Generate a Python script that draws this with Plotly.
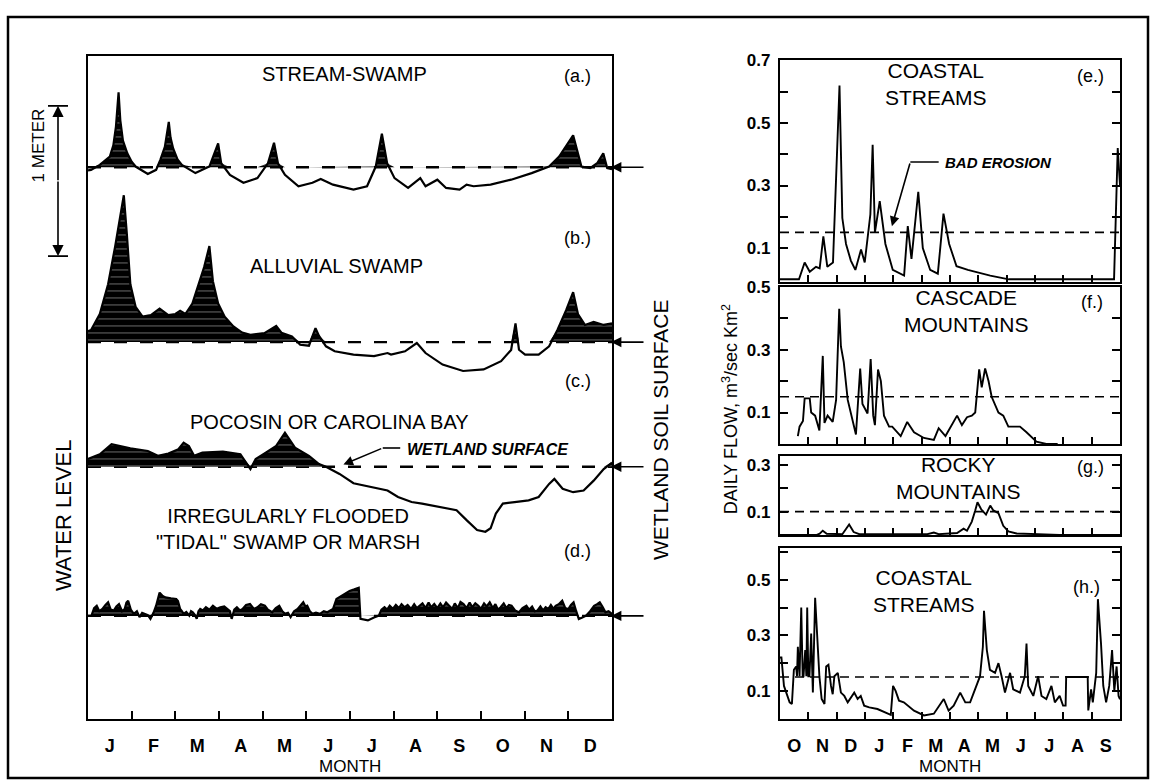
import numpy as np
import plotly.graph_objects as go

W, H = 1151, 782

# ---------------- data ----------------
LEFT_MONTHS = ["J", "F", "M", "A", "M", "J", "J", "A", "S", "O", "N", "D"]
RIGHT_MONTHS = ["O", "N", "D", "J", "F", "M", "A", "M", "J", "J", "A", "S"]

# (a) stream-swamp : month (0=Jan 1), water level relative to soil surface (m)
a_t = [0.0, 0.07, 0.27, 0.50, 0.58, 0.64, 0.70, 0.74, 0.80, 0.90, 1.00, 1.09, 1.37, 1.56, 1.66,
       1.76, 1.85, 1.89, 1.95, 2.05, 2.15, 2.46, 2.78, 2.90, 2.98, 3.05, 3.25, 3.56, 3.88, 4.12,
       4.26, 4.35, 4.51, 4.82, 5.14, 5.33, 5.61, 6.08, 6.39, 6.59, 6.73, 6.85, 7.02, 7.33, 7.61,
       7.73, 8.00, 8.20, 8.51, 8.67, 8.83, 9.22, 9.69, 10.16, 10.56, 10.79, 11.11, 11.30, 11.50,
       11.66, 11.80, 11.89, 12.0]
a_v = [-0.02, -0.017, 0.015, 0.068, 0.14, 0.26, 0.48, 0.30, 0.17, 0.089, 0.035, 0.004, -0.044,
       -0.017, 0.05, 0.13, 0.29, 0.19, 0.12, 0.05, 0.015, -0.038, 0.004, 0.089, 0.152, 0.025,
       -0.049, -0.1, -0.07, 0.025, 0.156, 0.025, -0.049, -0.122, -0.1, -0.076, -0.112, -0.144,
       -0.122, 0.004, 0.215, 0.025, -0.07, -0.133, -0.07, -0.122, -0.08, -0.133, -0.144, -0.112,
       -0.122, -0.112, -0.08, -0.038, 0.004, 0.068, 0.204, 0.004, -0.006, 0.025, 0.089, -0.006,
       -0.013]

# (b) alluvial swamp
b_t = [0.0, 0.07, 0.27, 0.46, 0.62, 0.74, 0.82, 0.89, 0.97, 1.09, 1.25, 1.44, 1.64, 1.84, 2.0,
       2.11, 2.23, 2.39, 2.54, 2.66, 2.78, 2.86, 2.98, 3.13, 3.33, 3.53, 3.72, 4.04, 4.31, 4.43,
       4.67, 4.86, 5.06, 5.21, 5.29, 5.45, 5.65, 6.08, 6.55, 6.86, 6.94, 7.26, 7.53, 7.73, 8.12,
       8.59, 9.06, 9.46, 9.69, 9.79, 9.87, 10.01, 10.32, 10.56, 10.75, 10.95, 11.11, 11.22,
       11.38, 11.58, 11.81, 12.0]
b_v = [0.07, 0.078, 0.18, 0.37, 0.61, 0.82, 0.94, 0.69, 0.37, 0.226, 0.163, 0.173, 0.215, 0.173,
       0.18, 0.2, 0.18, 0.247, 0.37, 0.48, 0.615, 0.39, 0.247, 0.163, 0.1, 0.061, 0.046, 0.057,
       0.103, 0.06, 0.036, -0.017, -0.023, 0.089, 0.04, -0.027, -0.059, -0.08, -0.09, -0.07,
       -0.08, -0.059, -0.006, -0.07, -0.144, -0.185, -0.175, -0.122, -0.05, 0.12, -0.049, -0.08,
       -0.08, -0.027, 0.078, 0.204, 0.32, 0.18, 0.11, 0.13, 0.11, 0.12]

# (c) pocosin or carolina bay
c_t = [0.0, 0.07, 0.27, 0.54, 0.97, 1.37, 1.60, 1.84, 2.07, 2.19, 2.31, 2.43, 2.62, 3.09, 3.49,
       3.72, 3.84, 4.08, 4.31, 4.51, 4.74, 5.06, 5.29, 5.45, 5.76, 6.08, 6.31, 6.55, 6.86, 7.10,
       7.41, 7.65, 8.04, 8.44, 8.67, 8.91, 9.10, 9.22, 9.34, 9.50, 9.77, 10.09, 10.32, 10.56,
       10.68, 10.87, 11.11, 11.35, 11.58, 11.81, 12.0]
c_v = [0.05, 0.059, 0.08, 0.144, 0.118, 0.101, 0.07, 0.084, 0.112, 0.154, 0.133, 0.07, 0.091,
       0.097, 0.08, -0.015, 0.049, 0.091, 0.133, 0.217, 0.122, 0.07, 0.017, 0.0, -0.046, -0.106,
       -0.12, -0.131, -0.152, -0.194, -0.226, -0.236, -0.257, -0.278, -0.342, -0.405, -0.416,
       -0.394, -0.3, -0.236, -0.226, -0.215, -0.194, -0.11, -0.078, -0.141, -0.163, -0.152,
       -0.089, -0.015, 0.027]

# (d) irregularly flooded "tidal" swamp or marsh
d_t = [0.00, 0.08, 0.14, 0.20, 0.26, 0.33, 0.40, 0.46, 0.52, 0.59, 0.65, 0.71, 0.78, 0.84, 0.88,
       0.92, 0.98, 1.05, 1.12, 1.18, 1.24, 1.30, 1.37, 1.43, 1.50, 1.56, 1.64, 1.70, 1.77, 1.90,
       2.02, 2.06, 2.11, 2.15, 2.19, 2.25, 2.32, 2.36, 2.40, 2.45, 2.49, 2.53, 2.57, 2.63, 2.70,
       2.78, 2.86, 2.95, 3.03, 3.12, 3.20, 3.25, 3.29, 3.35, 3.41, 3.48, 3.54, 3.62, 3.71, 3.80,
       3.88, 3.96, 4.05, 4.12, 4.22, 4.30, 4.38, 4.45, 4.51, 4.58, 4.64, 4.72, 4.80, 4.87, 4.93,
       4.98, 5.02, 5.08, 5.14, 5.22, 5.31, 5.40, 5.48, 5.55, 5.61, 5.69, 5.82, 5.90, 5.99, 6.10,
       6.20, 6.24, 6.41, 6.55, 6.66, 6.72, 6.79, 6.85, 6.91, 6.98, 7.05, 7.12, 7.18, 7.25, 7.32,
       7.40, 7.47, 7.53, 7.59, 7.66, 7.73, 7.80, 7.86, 7.93, 8.00, 8.07, 8.13, 8.20, 8.27, 8.34,
       8.40, 8.47, 8.53, 8.60, 8.67, 8.74, 8.80, 8.87, 8.94, 9.00, 9.07, 9.13, 9.20, 9.27, 9.33,
       9.39, 9.45, 9.52, 9.58, 9.64, 9.70, 9.78, 9.87, 9.95, 10.04, 10.10, 10.17, 10.23, 10.29,
       10.36, 10.42, 10.48, 10.54, 10.60, 10.66, 10.71, 10.78, 10.86, 10.93, 11.00, 11.06, 11.12,
       11.18, 11.24, 11.32, 11.41, 11.50, 11.59, 11.66, 11.72, 11.78, 11.85, 11.92, 12.00]
d_v = [0.00, 0.002, 0.05, 0.065, 0.03, 0.044, 0.07, 0.087, 0.04, 0.034, 0.06, 0.076, 0.03, 0.044,
       0.085, 0.097, 0.04, 0.013, 0.03, -0.008, 0.02, 0.013, 0.005, -0.019, 0.02, 0.065, 0.149,
       0.13, 0.118, 0.112, 0.108, 0.095, 0.044, 0.03, 0.013, 0.025, 0.002, 0.03, 0.023, 0.005,
       -0.019, 0.03, 0.044, 0.035, 0.055, 0.04, 0.065, 0.045, 0.055, 0.06, 0.044, 0.03, -0.019,
       0.04, 0.055, 0.035, 0.044, 0.07, 0.076, 0.045, 0.055, 0.075, 0.065, 0.04, 0.023, 0.05,
       0.065, 0.03, 0.013, 0.02, -0.008, 0.03, 0.044, 0.07, 0.087, 0.06, 0.065, 0.03, 0.013, 0.02,
       0.013, 0.03, 0.023, 0.035, 0.044, 0.108, 0.129, 0.14, 0.16, 0.17, 0.18, -0.019, -0.029,
       -0.01, 0.002, 0.04, 0.055, 0.04, 0.065, 0.045, 0.07, 0.05, 0.075, 0.055, 0.07, 0.045,
       0.075, 0.05, 0.065, 0.08, 0.05, 0.085, 0.055, 0.076, 0.05, 0.08, 0.055, 0.085, 0.065,
       0.045, 0.08, 0.05, 0.09, 0.076, 0.05, 0.085, 0.055, 0.08, 0.065, 0.045, 0.08, 0.06, 0.087,
       0.05, 0.075, 0.04, 0.055, 0.08, 0.05, 0.07, 0.065, 0.035, 0.023, 0.05, 0.065, 0.04, 0.06,
       0.03, 0.034, 0.06, 0.035, 0.055, 0.044, 0.07, 0.045, 0.065, 0.075, 0.097, 0.05, 0.044,
       0.07, 0.087, 0.03, -0.02, -0.01, 0.002, 0.03, 0.065, 0.075, 0.087, 0.06, 0.023, 0.03,
       0.013]

# vertical placement of each hydrograph on the shared left axis (m below panel top)
OFFSETS = {"a": -0.709, "b": -1.829, "c": -2.627, "d": -3.582}
LEFT_RANGE = [-4.2405, 0.0]

# right panels: month of water year (0 = Oct 1), daily flow m3/sec/km2
e_t = [0.0, 0.67, 0.87, 1.05, 1.27, 1.40, 1.53, 1.67, 1.87, 2.00, 2.10, 2.20, 2.33, 2.50, 2.66,
       2.86, 2.99, 3.19, 3.27, 3.35, 3.52, 3.72, 3.98, 4.38, 4.51, 4.64, 4.88, 5.04, 5.30, 5.57,
       5.77, 5.97, 6.23, 6.63, 7.42, 8.08, 11.79, 11.92, 12.0]
e_v = [0.0, 0.0, 0.054, 0.024, 0.04, 0.035, 0.137, 0.04, 0.054, 0.363, 0.62, 0.196, 0.113, 0.06,
       0.03, 0.095, 0.054, 0.208, 0.43, 0.15, 0.25, 0.113, 0.03, 0.012, 0.17, 0.065, 0.28, 0.10,
       0.03, 0.018, 0.21, 0.113, 0.042, 0.03, 0.012, 0.0, 0.0, 0.42, 0.30]

f_t = [0.63, 0.69, 0.81, 0.87, 1.05, 1.10, 1.24, 1.39, 1.51, 1.57, 1.68, 1.86, 1.98, 2.09, 2.15,
       2.25, 2.39, 2.68, 2.83, 2.91, 3.09, 3.20, 3.29, 3.35, 3.46, 3.56, 3.67, 3.85, 3.96, 4.26,
       4.49, 4.73, 5.08, 5.43, 5.60, 5.84, 6.25, 6.42, 6.60, 6.77, 6.89, 7.03, 7.12, 7.24, 7.36,
       7.47, 7.71, 7.88, 8.06, 8.47, 8.70, 9.05, 9.40, 9.80]
f_v = [0.025, 0.055, 0.073, 0.145, 0.145, 0.10, 0.09, 0.043, 0.28, 0.067, 0.09, 0.07, 0.14, 0.43,
       0.31, 0.26, 0.14, 0.03, 0.24, 0.127, 0.097, 0.27, 0.09, 0.06, 0.237, 0.20, 0.09, 0.055,
       0.055, 0.025, 0.07, 0.037, 0.019, 0.013, 0.05, 0.025, 0.09, 0.06, 0.085, 0.09, 0.10, 0.237,
       0.18, 0.24, 0.20, 0.15, 0.10, 0.09, 0.055, 0.055, 0.037, 0.007, 0.0, 0.0]

g_t = [0.0, 1.30, 1.40, 1.51, 1.65, 2.20, 2.44, 2.60, 2.80, 5.20, 5.43, 5.60, 6.25, 6.48, 6.60,
       6.77, 6.89, 6.97, 7.10, 7.27, 7.42, 7.53, 7.71, 7.88, 8.06, 8.35, 9.86, 12.0]
g_v = [0.0, 0.0, 0.005, 0.018, 0.005, 0.003, 0.045, 0.012, 0.003, 0.003, 0.01, 0.003, 0.008,
       0.027, 0.018, 0.057, 0.105, 0.14, 0.11, 0.087, 0.126, 0.105, 0.093, 0.039, 0.015, 0.006,
       0.0, 0.0]

h_t = [0.0, 0.05, 0.14, 0.22, 0.34, 0.42, 0.49, 0.57, 0.60, 0.63, 0.69, 0.75, 0.80, 0.83, 0.89,
       0.93, 0.96, 1.00, 1.04, 1.10, 1.16, 1.24, 1.31, 1.39, 1.47, 1.57, 1.63, 1.71, 1.80, 1.86,
       1.92, 2.04, 2.15, 2.27, 2.39, 2.56, 2.62, 2.74, 2.85, 2.97, 3.15, 3.44, 3.67, 3.91, 3.99,
       4.08, 4.20, 4.37, 4.73, 5.08, 5.43, 5.66, 5.78, 5.95, 6.13, 6.36, 6.54, 6.71, 6.89, 7.06,
       7.16, 7.20, 7.30, 7.41, 7.59, 7.71, 7.82, 7.94, 8.12, 8.23, 8.47, 8.64, 8.70, 8.76, 8.94,
       9.11, 9.23, 9.40, 9.58, 9.70, 9.87, 9.99, 10.08, 10.10, 10.86, 10.88, 10.98, 11.04, 11.16,
       11.22, 11.33, 11.41, 11.51, 11.62, 11.72, 11.80, 11.88, 11.95, 12.0]
h_v = [0.22, 0.22, 0.118, 0.094, 0.059, 0.053, 0.176, 0.188, 0.153, 0.259, 0.153, 0.40, 0.153,
       0.153, 0.247, 0.153, 0.40, 0.153, 0.153, 0.306, 0.094, 0.435, 0.282, 0.153, 0.071, 0.053,
       0.188, 0.194, 0.118, 0.088, 0.153, 0.165, 0.094, 0.082, 0.059, 0.082, 0.094, 0.071, 0.082,
       0.047, 0.041, 0.035, 0.024, 0.014, 0.118, 0.10, 0.065, 0.059, 0.029, 0.012, 0.018, 0.053,
       0.071, 0.029, 0.047, 0.094, 0.059, 0.059, 0.106, 0.153, 0.259, 0.388, 0.247, 0.176, 0.165,
       0.20, 0.153, 0.094, 0.165, 0.106, 0.094, 0.153, 0.27, 0.118, 0.082, 0.153, 0.082, 0.071,
       0.118, 0.059, 0.082, 0.047, 0.047, 0.15, 0.15, 0.03, 0.106, 0.059, 0.165, 0.43, 0.27,
       0.118, 0.059, 0.118, 0.247, 0.10, 0.188, 0.082, 0.07]

THRESHOLDS = {"e": 0.15, "f": 0.15, "g": 0.10, "h": 0.15}
Y_RANGES = {"e": [-0.008, 0.70], "f": [0.0, 0.50], "g": [0.0, 0.34], "h": [0.0, 0.615]}
Y_TICKS = {"e": [0.1, 0.2, 0.3, 0.4, 0.5, 0.6, 0.7], "f": [0.1, 0.2, 0.3, 0.4, 0.5],
           "g": [0.1, 0.2, 0.3], "h": [0.1, 0.2, 0.3, 0.4, 0.5, 0.6]}

# ---------------- layout ----------------
FONT = "Liberation Sans"
LX0, LX1, LY0, LY1 = 88, 612, 48, 718
RX0, RX1 = 780, 1120
PANELS = {"e": (52, 276), "f": (281, 440), "g": (452, 532), "h": (545, 718)}


def px(x, y):
    return x / W, 1 - y / H


def ydom(top, bot):
    return [1 - bot / H, 1 - top / H]


fig = go.Figure()
PATTERN = dict(shape="-", bgcolor="black", fgcolor="white", size=7, solidity=0.12)


def add_hydro(t, v, off):
    t = np.asarray(t, float)
    v = np.asarray(v, float)
    base = np.full_like(v, off)
    fig.add_trace(go.Scatter(x=t, y=base, mode="lines", line=dict(width=0),
                             showlegend=False, hoverinfo="skip", xaxis="x", yaxis="y"))
    fig.add_trace(go.Scatter(x=t, y=np.maximum(v, 0) + off, mode="lines", line=dict(width=0),
                             fill="tonexty", fillpattern=PATTERN, showlegend=False,
                             hoverinfo="skip", xaxis="x", yaxis="y"))
    fig.add_trace(go.Scatter(x=t, y=v + off, mode="lines", line=dict(color="black", width=2.2),
                             showlegend=False, hoverinfo="skip", xaxis="x", yaxis="y"))


shapes = []
for key, (t, v) in {"a": (a_t, a_v), "b": (b_t, b_v), "c": (c_t, c_v), "d": (d_t, d_v)}.items():
    off = OFFSETS[key]
    shapes.append(dict(type="line", xref="x", yref="y", x0=0, x1=12, y0=off, y1=off,
                       line=dict(color="black", width=2.4, dash="13px,13px"), layer="below"))
    add_hydro(t, v, off)

right = {"e": (e_t, e_v, 2), "f": (f_t, f_v, 3), "g": (g_t, g_v, 4), "h": (h_t, h_v, 5)}
for key, (t, v, n) in right.items():
    fig.add_trace(go.Scatter(x=t, y=v, mode="lines", line=dict(color="black", width=1.9),
                             showlegend=False, hoverinfo="skip", xaxis=f"x{n}", yaxis=f"y{n}"))
    shapes.append(dict(type="line", xref=f"x{n}", yref=f"y{n}", x0=0, x1=12,
                       y0=THRESHOLDS[key], y1=THRESHOLDS[key],
                       line=dict(color="black", width=1.6, dash="9px,6px"), layer="below"))

axis_common = dict(showline=True, mirror=True, linecolor="black", linewidth=2.4,
                   showgrid=False, zeroline=False)
layout = dict(
    width=W, height=H, autosize=False, margin=dict(l=0, r=0, t=0, b=0),
    paper_bgcolor="white", plot_bgcolor="white", showlegend=False,
    font=dict(family=FONT, color="black"),
    xaxis=dict(domain=[LX0 / W, LX1 / W], range=[0, 12], anchor="y",
               tickmode="array", tickvals=[m + 0.5 for m in range(12)], ticktext=LEFT_MONTHS,
               ticks="", tickfont=dict(size=18, weight="bold"), ticklabelstandoff=9,
               minor=dict(tickmode="array", tickvals=list(range(1, 12)), ticks="inside",
                          ticklen=8, tickwidth=1.6, tickcolor="black"),
               **axis_common),
    yaxis=dict(domain=ydom(LY0, LY1), range=LEFT_RANGE, anchor="x", showticklabels=False,
               ticks="", **axis_common),
)
for key, n in [("e", 2), ("f", 3), ("g", 4), ("h", 5)]:
    top, bot = PANELS[key]
    show = key == "h"
    layout[f"xaxis{n}"] = dict(domain=[RX0 / W, RX1 / W], range=[0, 12], anchor=f"y{n}",
                               tickmode="array", tickvals=[m + 0.5 for m in range(12)],
                               ticktext=RIGHT_MONTHS, showticklabels=show, ticks="",
                               tickfont=dict(size=18, weight="bold"), ticklabelstandoff=9,
                               minor=dict(tickmode="array", tickvals=list(range(1, 12)),
                                          ticks="inside", ticklen=7, tickwidth=1.6,
                                          tickcolor="black"),
                               **axis_common)
    tv = Y_TICKS[key]
    tt = [f"{v:.1f}" if round(v * 10) % 2 == 1 else "" for v in tv]
    ax = dict(axis_common)
    ax["mirror"] = "ticks"
    layout[f"yaxis{n}"] = dict(domain=ydom(top, bot), range=Y_RANGES[key], anchor=f"x{n}",
                               tickmode="array", tickvals=tv, ticktext=tt, ticks="inside",
                               ticklen=8, tickwidth=1.6, tickcolor="black",
                               tickfont=dict(size=17, weight="bold"), ticklabelstandoff=4, **ax)

annotations = []


def text(s, x, y, size=20, angle=0, xanchor="center", weight="normal", style="normal"):
    xp, yp = px(x, y)
    annotations.append(dict(text=s, x=xp, y=yp, xref="paper", yref="paper", showarrow=False,
                            xanchor=xanchor, yanchor="middle", textangle=angle,
                            font=dict(size=size, family=FONT, weight=weight, style=style)))


# left panel labels
text("STREAM-SWAMP", 344, 66, 20)
text("(a.)", 578, 68, 18)
text("(b.)", 578, 232, 18)
text("ALLUVIAL SWAMP", 336, 260, 20)
text("(c.)", 578, 376, 18)
text("POCOSIN OR CAROLINA BAY", 330, 418, 20)
text("IRREGULARLY FLOODED<br>\"TIDAL\" SWAMP OR MARSH", 288, 526, 20)
text("(d.)", 578, 548, 18)
text("MONTH", 350, 766, 17)
text("WATER LEVEL", 63, 512, 22, angle=-90)
text("1 METER", 38, 138, 17, angle=-90)
text("WETLAND SOIL SURFACE", 660, 425, 21, angle=-90)
text("DAILY FLOW, m<sup>3</sup>/sec Km<sup>2</sup>", 730, 405, 18, angle=-90)

# right panel labels
text("COASTAL<br>STREAMS", 936, 76, 21)
text("(e.)", 1090, 68, 18)
text("CASCADE<br>MOUNTAINS", 966, 306, 21)
text("(f.)", 1092, 296, 18)
text("ROCKY<br>MOUNTAINS", 958, 474, 21)
text("(g.)", 1090, 463, 18)
text("COASTAL<br>STREAMS", 924, 589, 21)
text("(h.)", 1086, 585, 18)
text("MONTH", 950, 766, 17)

# italic callouts placed on the data axes
annotations.append(dict(text="WETLAND SURFACE", x=7.25, y=OFFSETS["c"] + 0.11, xref="x",
                        yref="y", showarrow=False, xanchor="left", yanchor="middle",
                        font=dict(size=16, family=FONT, weight="bold", style="italic")))
shapes.append(dict(type="line", xref="x", yref="y", x0=6.75, x1=7.15,
                   y0=OFFSETS["c"] + 0.12, y1=OFFSETS["c"] + 0.12,
                   line=dict(color="black", width=1.6)))
annotations.append(dict(x=5.85, y=OFFSETS["c"] + 0.015, ax=6.75, ay=OFFSETS["c"] + 0.12,
                        xref="x", yref="y", axref="x", ayref="y", text="", showarrow=True,
                        arrowhead=2, arrowsize=1.2, arrowwidth=1.6, arrowcolor="black"))

annotations.append(dict(text="BAD EROSION", x=5.75, y=0.375, xref="x2", yref="y2",
                        showarrow=False, xanchor="left", yanchor="middle",
                        font=dict(size=15, family=FONT, weight="bold", style="italic")))
shapes.append(dict(type="line", xref="x2", yref="y2", x0=4.6, x1=5.6, y0=0.375, y1=0.375,
                   line=dict(color="black", width=1.6)))
annotations.append(dict(x=3.95, y=0.17, ax=4.6, ay=0.375, xref="x2", yref="y2", axref="x2",
                        ayref="y2", text="", showarrow=True, arrowhead=2, arrowsize=1.2,
                        arrowwidth=1.6, arrowcolor="black"))

# arrows to the wetland soil surface (right side of left panel)
for key in ["a", "b", "c", "d"]:
    annotations.append(dict(x=(LX1 - 1) / W, y=OFFSETS[key], xref="paper", yref="y", text="",
                            showarrow=True, ax=34, ay=0, arrowhead=2, arrowsize=1.3,
                            arrowwidth=1.6, arrowcolor="black"))

# 1 meter scale bar
BAR_X, BAR_TOP, BAR_BOT = 58, 98, 250
half = (BAR_BOT - BAR_TOP) / 2
for yy, dy in [(BAR_TOP, half), (BAR_BOT, -half)]:
    xp, yp = px(BAR_X, yy)
    annotations.append(dict(x=xp, y=yp, xref="paper", yref="paper", text="", showarrow=True,
                            ax=0, ay=dy, arrowhead=2, arrowsize=1.4, arrowwidth=1.6,
                            arrowcolor="black", standoff=0, startstandoff=0))
    shapes.append(dict(type="line", xref="paper", yref="paper", x0=(BAR_X - 10) / W,
                       x1=(BAR_X + 10) / W, y0=yp, y1=yp, line=dict(color="black", width=1.8)))

# outer frame
shapes.append(dict(type="rect", xref="paper", yref="paper", x0=8 / W, x1=1148 / W,
                   y0=1 - 778 / H, y1=1 - 8 / H, line=dict(color="black", width=2.5)))

layout["shapes"] = shapes
layout["annotations"] = annotations
fig.update_layout(**layout)
fig.write_html("out.html", config={"displayModeBar": False},
               post_script="document.body.style.margin='0';document.body.style.padding='0';")
